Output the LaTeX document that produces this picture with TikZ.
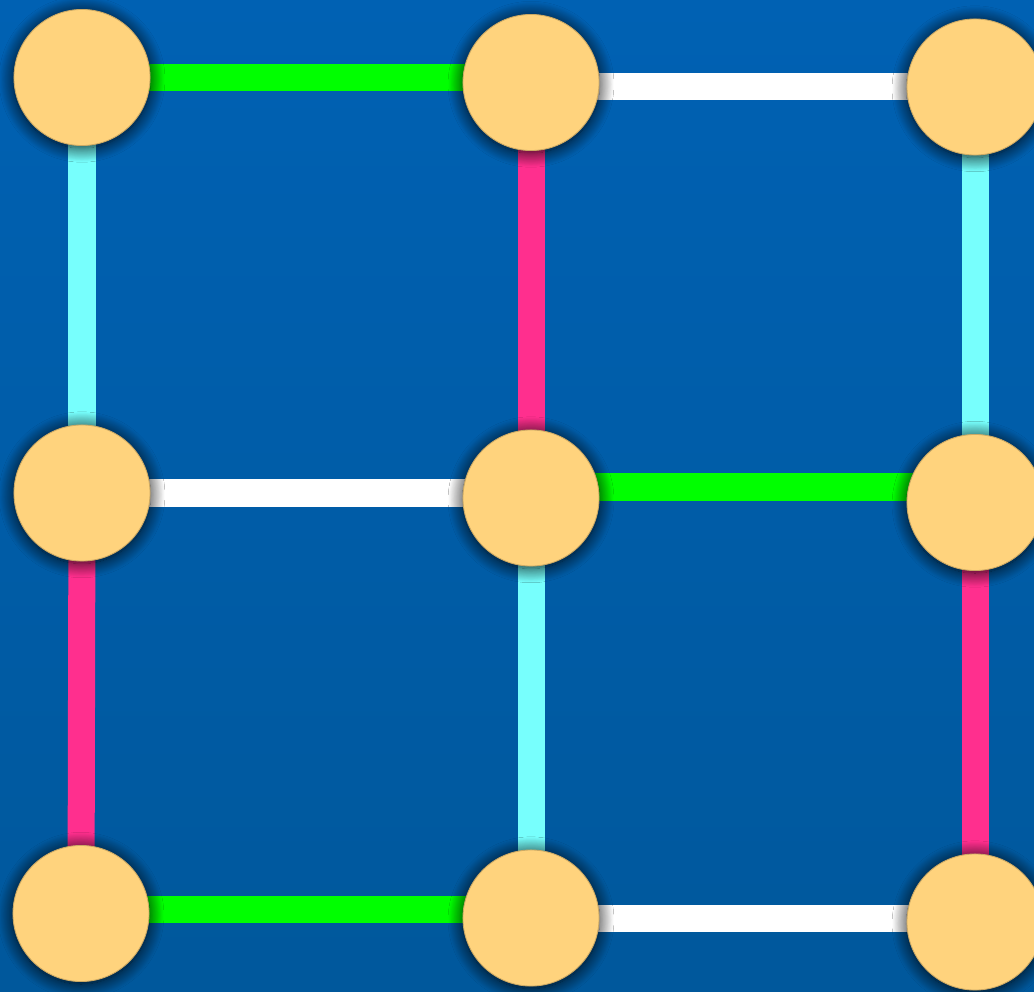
\documentclass[tikz,border=0pt]{standalone}
\usepackage{xcolor}
\usepackage{tikz}
\usetikzlibrary{backgrounds, shadows.blur}

\definecolor{bgtop}{HTML}{0061B3}
\definecolor{bgbottom}{HTML}{00589C}
\definecolor{dotfill}{HTML}{FFD37D}
\definecolor{linkgreen}{HTML}{00FF00}
\definecolor{linkcyan}{HTML}{77FFFD}
\definecolor{linkpink}{HTML}{FF2F8E}

\tikzset{
    dot/.style={circle, fill=dotfill, draw=dotfill!80!black, line width=0.25pt,
        minimum size=1.36cm, inner sep=0pt,
        blur shadow={shadow xshift=0pt, shadow yshift=-0.5pt, shadow scale=1.01,
            shadow blur steps=20, shadow blur radius=4pt, shadow opacity=90}},
    link/.style={line width=0.27cm}
}

\begin{document}
\begin{tikzpicture}[x=0.01cm, y=-0.01cm]
    \useasboundingbox (0,0) rectangle (1034,991);
    \clip (0,0) rectangle (1034,991);
    % the nine dots
    \foreach \name/\x/\y in {v11/82/77.5, v12/531/82.5, v13/975/87,
                             v21/82/493, v22/531/498, v23/975/502.5,
                             v31/81/913.5, v32/531/918, v33/975/922}
        \node[dot] (\name) at (\x,\y) {};
    \begin{pgfonlayer}{background}
        \shade[top color=bgtop, bottom color=bgbottom] (0,0) rectangle (1034,991);
        % horizontal links
        \foreach \a/\b/\col/\y in {v11/v12/linkgreen/77.5, v12/v13/white/86.5,
                                   v21/v22/white/493, v22/v23/linkgreen/487,
                                   v31/v32/linkgreen/909, v32/v33/white/918}
            \draw[link, \col] (\a |- 0,\y) -- (\b |- 0,\y);
        % vertical links
        \foreach \a/\b/\col in {v11/v21/linkcyan, v12/v22/linkpink, v13/v23/linkcyan,
                                v21/v31/linkpink, v22/v32/linkcyan, v23/v33/linkpink}
            \draw[link, \col] (\a.center) -- (\b.center);
    \end{pgfonlayer}
\end{tikzpicture}
\end{document}
